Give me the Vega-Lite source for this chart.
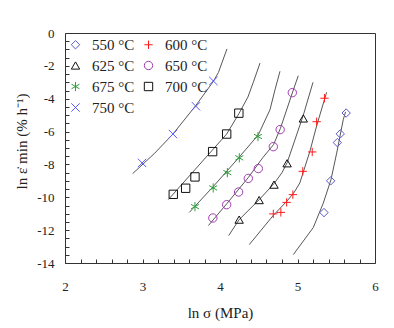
{
  "$schema": "https://vega.github.io/schema/vega-lite/v6.json",
  "width": 310,
  "height": 230,
  "autosize": {"type": "none"},
  "padding": {"left": 65, "top": 33, "right": 19, "bottom": 65},
  "config": {
    "view": {"stroke": "#333333", "strokeWidth": 1},
    "font": "Liberation Serif"
  },
  "datasets": {
    "pts": [
      {"T": "550 °C", "lnS": 5.342, "lnE": -10.93},
      {"T": "550 °C", "lnS": 5.428, "lnE": -9.0},
      {"T": "550 °C", "lnS": 5.514, "lnE": -6.67},
      {"T": "550 °C", "lnS": 5.552, "lnE": -6.14},
      {"T": "550 °C", "lnS": 5.628, "lnE": -4.87},
      {"T": "600 °C", "lnS": 4.688, "lnE": -11.01},
      {"T": "600 °C", "lnS": 4.785, "lnE": -10.92},
      {"T": "600 °C", "lnS": 4.86, "lnE": -10.31},
      {"T": "600 °C", "lnS": 4.94, "lnE": -9.84},
      {"T": "600 °C", "lnS": 5.068, "lnE": -8.42},
      {"T": "600 °C", "lnS": 5.19, "lnE": -7.24},
      {"T": "600 °C", "lnS": 5.247, "lnE": -5.4},
      {"T": "600 °C", "lnS": 5.348, "lnE": -3.97},
      {"T": "625 °C", "lnS": 4.247, "lnE": -11.36},
      {"T": "625 °C", "lnS": 4.505, "lnE": -10.17},
      {"T": "625 °C", "lnS": 4.697, "lnE": -9.23},
      {"T": "625 °C", "lnS": 4.866, "lnE": -7.93},
      {"T": "625 °C", "lnS": 5.075, "lnE": -5.2},
      {"T": "650 °C", "lnS": 3.908, "lnE": -11.26},
      {"T": "650 °C", "lnS": 4.086, "lnE": -10.45},
      {"T": "650 °C", "lnS": 4.24, "lnE": -9.68},
      {"T": "650 °C", "lnS": 4.365, "lnE": -8.85},
      {"T": "650 °C", "lnS": 4.494, "lnE": -8.25},
      {"T": "650 °C", "lnS": 4.688, "lnE": -6.92},
      {"T": "650 °C", "lnS": 4.776, "lnE": -5.88},
      {"T": "650 °C", "lnS": 4.933, "lnE": -3.63},
      {"T": "675 °C", "lnS": 3.677, "lnE": -10.57},
      {"T": "675 °C", "lnS": 3.912, "lnE": -9.43},
      {"T": "675 °C", "lnS": 4.095, "lnE": -8.5},
      {"T": "675 °C", "lnS": 4.249, "lnE": -7.6},
      {"T": "675 °C", "lnS": 4.49, "lnE": -6.3},
      {"T": "700 °C", "lnS": 3.397, "lnE": -9.82},
      {"T": "700 °C", "lnS": 3.557, "lnE": -9.45},
      {"T": "700 °C", "lnS": 3.677, "lnE": -8.76},
      {"T": "700 °C", "lnS": 3.905, "lnE": -7.22},
      {"T": "700 °C", "lnS": 4.086, "lnE": -6.15},
      {"T": "700 °C", "lnS": 4.243, "lnE": -4.88},
      {"T": "750 °C", "lnS": 2.995, "lnE": -7.91},
      {"T": "750 °C", "lnS": 3.393, "lnE": -6.15},
      {"T": "750 °C", "lnS": 3.69, "lnE": -4.46},
      {"T": "750 °C", "lnS": 3.914, "lnE": -2.92}
    ],
    "fit": [
      {"curve": "550", "i": 1, "lnS": 4.946, "lnE": -13.49},
      {"curve": "550", "i": 2, "lnS": 5.204, "lnE": -11.84},
      {"curve": "550", "i": 3, "lnS": 5.333, "lnE": -10.35},
      {"curve": "550", "i": 4, "lnS": 5.432, "lnE": -8.93},
      {"curve": "550", "i": 5, "lnS": 5.506, "lnE": -7.3},
      {"curve": "550", "i": 6, "lnS": 5.59, "lnE": -5.28},
      {"curve": "550", "i": 7, "lnS": 5.62, "lnE": -4.8},
      {"curve": "600", "i": 1, "lnS": 4.378, "lnE": -12.88},
      {"curve": "600", "i": 2, "lnS": 4.688, "lnE": -11.1},
      {"curve": "600", "i": 3, "lnS": 4.86, "lnE": -10.25},
      {"curve": "600", "i": 4, "lnS": 4.95, "lnE": -9.75},
      {"curve": "600", "i": 5, "lnS": 5.03, "lnE": -9.13},
      {"curve": "600", "i": 6, "lnS": 5.16, "lnE": -7.2},
      {"curve": "600", "i": 7, "lnS": 5.25, "lnE": -5.6},
      {"curve": "600", "i": 8, "lnS": 5.376, "lnE": -3.61},
      {"curve": "625", "i": 1, "lnS": 4.112, "lnE": -12.33},
      {"curve": "625", "i": 2, "lnS": 4.247, "lnE": -11.36},
      {"curve": "625", "i": 3, "lnS": 4.505, "lnE": -10.15},
      {"curve": "625", "i": 4, "lnS": 4.7, "lnE": -9.15},
      {"curve": "625", "i": 5, "lnS": 4.8, "lnE": -8.5},
      {"curve": "625", "i": 6, "lnS": 4.866, "lnE": -7.9},
      {"curve": "625", "i": 7, "lnS": 5.075, "lnE": -5.0},
      {"curve": "625", "i": 8, "lnS": 5.2, "lnE": -3.0},
      {"curve": "650", "i": 1, "lnS": 3.85, "lnE": -11.72},
      {"curve": "650", "i": 2, "lnS": 4.086, "lnE": -10.4},
      {"curve": "650", "i": 3, "lnS": 4.365, "lnE": -8.8},
      {"curve": "650", "i": 4, "lnS": 4.55, "lnE": -7.6},
      {"curve": "650", "i": 5, "lnS": 4.69, "lnE": -6.8},
      {"curve": "650", "i": 6, "lnS": 4.78, "lnE": -5.8},
      {"curve": "650", "i": 7, "lnS": 4.933, "lnE": -3.65},
      {"curve": "650", "i": 8, "lnS": 5.01, "lnE": -2.6},
      {"curve": "675", "i": 1, "lnS": 3.604, "lnE": -10.92},
      {"curve": "675", "i": 2, "lnS": 3.912, "lnE": -9.35},
      {"curve": "675", "i": 3, "lnS": 4.249, "lnE": -7.55},
      {"curve": "675", "i": 4, "lnS": 4.494, "lnE": -6.2},
      {"curve": "675", "i": 5, "lnS": 4.645, "lnE": -4.67},
      {"curve": "675", "i": 6, "lnS": 4.71, "lnE": -3.45},
      {"curve": "675", "i": 7, "lnS": 4.774, "lnE": -2.33},
      {"curve": "700", "i": 1, "lnS": 3.333, "lnE": -10.14},
      {"curve": "700", "i": 2, "lnS": 4.086, "lnE": -6.15},
      {"curve": "700", "i": 3, "lnS": 4.245, "lnE": -4.9},
      {"curve": "700", "i": 4, "lnS": 4.36, "lnE": -3.9},
      {"curve": "700", "i": 5, "lnS": 4.43, "lnE": -3.0},
      {"curve": "700", "i": 6, "lnS": 4.516, "lnE": -1.83},
      {"curve": "750", "i": 1, "lnS": 2.873, "lnE": -8.56},
      {"curve": "750", "i": 2, "lnS": 3.15, "lnE": -7.35},
      {"curve": "750", "i": 3, "lnS": 3.393, "lnE": -6.15},
      {"curve": "750", "i": 4, "lnS": 3.69, "lnE": -4.4},
      {"curve": "750", "i": 5, "lnS": 3.914, "lnE": -2.95},
      {"curve": "750", "i": 6, "lnS": 3.98, "lnE": -2.4},
      {"curve": "750", "i": 7, "lnS": 4.09, "lnE": -0.97}
    ]
  },
  "encoding": {
    "x": {
      "field": "lnS", "type": "quantitative",
      "scale": {"domain": [2, 6], "nice": false, "zero": false},
      "axis": {
        "title": "ln σ  (MPa)",
        "values": [2, 2.2, 2.4, 2.6, 2.8, 3, 3.2, 3.4, 3.6, 3.8, 4, 4.2, 4.4, 4.6, 4.8, 5, 5.2, 5.4, 5.6, 5.8, 6],
        "labelExpr": "datum.value % 1 === 0 ? '' + datum.value : ''",
        "labelFont": "Liberation Serif", "labelFontSize": 13, "labelColor": "#222222",
        "labelOverlap": false, "labelFlush": false, "labelBound": false,
        "labelPadding": 21,
        "ticks": true, "tickSize": -4, "tickColor": "#333333", "tickWidth": 1,
        "grid": false, "domain": false,
        "titleFont": "Liberation Serif", "titleFontSize": 15, "titleFontWeight": "normal", "titleColor": "#222222",
        "titleX": 155,
        "titleY": 49,
        "titleBaseline": "middle"
      }
    },
    "y": {
      "field": "lnE", "type": "quantitative",
      "scale": {"domain": [-14, 0], "nice": false, "zero": false},
      "axis": {
        "title": "ln ε̇ min (% h⁻¹)",
        "values": [-14, -13.5, -13, -12.5, -12, -11.5, -11, -10.5, -10, -9.5, -9, -8.5, -8, -7.5, -7, -6.5, -6, -5.5, -5, -4.5, -4, -3.5, -3, -2.5, -2, -1.5, -1, -0.5, 0],
        "labelExpr": "datum.value % 2 === 0 ? '' + datum.value : ''",
        "labelFont": "Liberation Serif", "labelFontSize": 13, "labelColor": "#222222",
        "labelOverlap": false, "labelFlush": false, "labelBound": false,
        "labelPadding": 15,
        "ticks": true, "tickSize": -4, "tickColor": "#333333", "tickWidth": 1,
        "grid": false, "domain": false,
        "titleFont": "Liberation Serif", "titleFontSize": 15, "titleFontWeight": "normal", "titleColor": "#222222",
        "titleX": -36,
        "titleY": 108
      }
    }
  },
  "layer": [
    {
      "data": {"name": "fit"},
      "mark": {"type": "line", "color": "#444444", "strokeWidth": 0.9},
      "encoding": {
        "detail": {"field": "curve"},
        "order": {"field": "i", "type": "quantitative"}
      }
    },
    {
      "data": {"name": "pts"},
      "mark": {"type": "point", "filled": false, "size": 70, "strokeWidth": 1, "opacity": 1},
      "encoding": {
        "color": {
          "field": "T", "type": "nominal",
          "scale": {
            "domain": ["550 °C", "625 °C", "675 °C", "750 °C", "600 °C", "650 °C", "700 °C"],
            "range": ["#5a5ac8", "#111111", "#2e9e3a", "#5a5aff", "#ff1a1a", "#a23cb4", "#111111"]
          },
          "legend": {
            "title": null, "orient": "none", "legendX": 3, "legendY": 4, "columns": 2,
            "labelFont": "Liberation Serif", "labelFontSize": 15, "labelColor": "#222222",
            "symbolSize": 70, "symbolStrokeWidth": 1, "rowPadding": 5, "columnPadding": 6,
            "labelOffset": 9, "padding": 0
          }
        },
        "shape": {
          "field": "T", "type": "nominal",
          "scale": {
            "domain": ["550 °C", "625 °C", "675 °C", "750 °C", "600 °C", "650 °C", "700 °C"],
            "range": ["diamond", "triangle-up", "M0,-1.1L0,1.1M-0.95,-0.55L0.95,0.55M-0.95,0.55L0.95,-0.55", "M-1,-1L1,1M-1,1L1,-1", "M-1,0L1,0M0,-1L0,1", "circle", "square"]
          },
          "legend": {
            "title": null, "orient": "none", "legendX": 3, "legendY": 4, "columns": 2,
            "labelFont": "Liberation Serif", "labelFontSize": 15, "labelColor": "#222222",
            "symbolSize": 70, "symbolStrokeWidth": 1, "rowPadding": 5, "columnPadding": 6,
            "labelOffset": 9, "padding": 0
          }
        }
      }
    }
  ]
}
